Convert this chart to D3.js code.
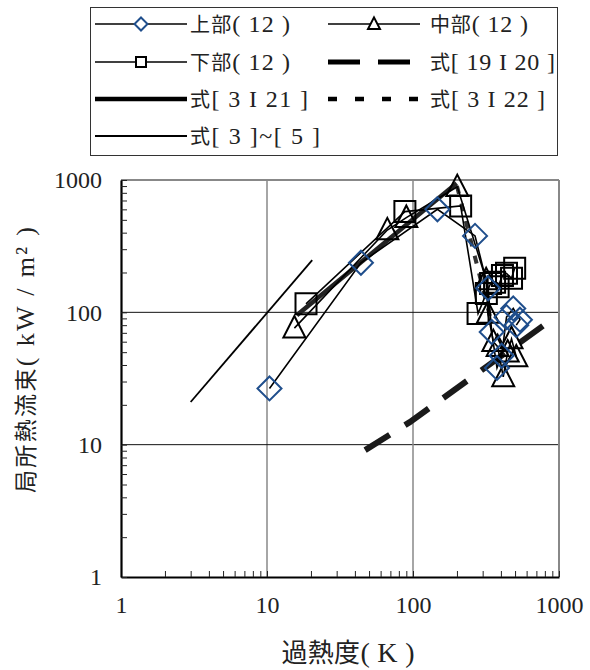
<!DOCTYPE html>
<html><head><meta charset="utf-8">
<script src="https://cdn.jsdelivr.net/npm/d3@7"></script>
<style>body{margin:0;background:#fff}svg{display:block}</style>
</head><body>
<svg id="c" width="590" height="670"></svg>
<script>
// ---- data ----
const upperX = [10.4, 44, 147, 266, 327, 346, 376, 405, 437, 486, 540, 510];
const upperY = [26.6, 237, 601, 378, 152, 71, 38, 47, 92, 107, 88, 80];
const midX = [15.4, 66.7, 90, 201, 317, 326, 355, 380, 415, 445, 473, 510];
const midY = [76, 419, 520, 890, 176, 98, 60, 55, 32.5, 50, 63, 46];
const lowX = [18.5, 88, 212, 279, 318, 340, 362, 383, 410, 437, 473, 497];
const lowY = [116, 577, 637, 98, 139, 165, 169, 156, 190, 197, 181, 215];
const eq35X = [3, 20.4], eq35Y = [21, 248];
const eq321X = [16, 199], eq321Y = [95, 946];
const eq322X = [200, 337], eq322Y = [900, 93];
const eq1920X = [47, 95, 193, 824], eq1920Y = [9.1, 14.8, 26, 83];
const tickLabels = [1, 10, 100, 1000];
const legendLabels = ["上部( 12 )", "中部( 12 )", "下部( 12 )", "式[ 19 I 20 ]", "式[ 3 I 21 ]", "式[ 3 I 22 ]", "式[ 3 ]~[ 5 ]"];
const xTitle = "過熱度( K )";
const yTitle = "局所熱流束( kW / m² )";

const svg = d3.select("#c");
const L = 121, R = 559, T = 180, B = 577;
const x = d3.scaleLog().domain([1, 1000]).range([L, R]);
const y = d3.scaleLog().domain([1, 1000]).range([B, T]);
const BLUE = "#1f4e8c";

// rich text helper: CJK runs in sans CJK, others in serif
function rich(sel, str, cjkSize, serifSize) {
  const runs = [];
  for (const ch of str) {
    const cjk = /[\u3000-\u9fff\uff00-\uffef]/.test(ch);
    if (runs.length && runs[runs.length - 1].cjk === cjk) runs[runs.length - 1].t += ch;
    else runs.push({ cjk, t: ch });
  }
  runs.forEach(r => sel.append("tspan")
    .attr("font-family", r.cjk ? "'Noto Sans CJK JP'" : "'Liberation Serif'")
    .attr("font-size", r.cjk ? cjkSize : serifSize)
    .style("white-space", "pre")
    .text(r.t));
}

// grid
const g = svg.append("g");
[10, 100].forEach(v => {
  g.append("line").attr("x1", x(v)).attr("x2", x(v)).attr("y1", T).attr("y2", B)
    .attr("stroke", "#888").attr("stroke-width", 1.5);
  g.append("line").attr("x1", L).attr("x2", R).attr("y1", y(v)).attr("y2", y(v))
    .attr("stroke", "#111").attr("stroke-width", 1);
});
// top/right borders
g.append("line").attr("x1", L).attr("x2", R).attr("y1", T).attr("y2", T).attr("stroke", "#888").attr("stroke-width", 2);
g.append("line").attr("x1", R).attr("x2", R).attr("y1", T).attr("y2", B).attr("stroke", "#888").attr("stroke-width", 2);

// axes with inward minor ticks
const allTicks = [];
[1, 10, 100].forEach(d => { for (let k = 1; k <= 9; k++) allTicks.push(d * k); });
allTicks.push(1000);
const fmt = v => tickLabels.includes(v) ? String(v) : "";
const ax = svg.append("g").attr("transform", `translate(0,${B})`)
  .call(d3.axisBottom(x).tickValues(allTicks).tickFormat(fmt).tickSizeInner(-6).tickSizeOuter(0).tickPadding(19));
const ay = svg.append("g").attr("transform", `translate(${L},0)`)
  .call(d3.axisLeft(y).tickValues(allTicks).tickFormat(fmt).tickSizeInner(-6).tickSizeOuter(0).tickPadding(19));
[ax, ay].forEach(a => {
  a.select(".domain").attr("stroke", "#000").attr("stroke-width", 2.2);
  a.selectAll(".tick line").attr("stroke", "#222").attr("stroke-width", 1);
  a.selectAll(".tick text").attr("font-family", "'Liberation Serif'").attr("font-size", 24).attr("fill", "#222");
});

// lines
const lineGen = d3.line().x(d => x(d[0])).y(d => y(d[1]));
const zip = (a, b) => a.map((v, i) => [v, b[i]]);
const pg = svg.append("g").attr("fill", "none");
pg.append("path").attr("d", lineGen(zip(eq1920X, eq1920Y))).attr("stroke", "#1a1a1a").attr("stroke-width", 6).attr("stroke-dasharray", "29,18");
pg.append("path").attr("d", lineGen(zip(eq35X, eq35Y))).attr("stroke", "#000").attr("stroke-width", 1.8);
pg.append("path").attr("d", lineGen(zip(eq321X, eq321Y))).attr("stroke", "#222").attr("stroke-width", 4.5);
pg.append("path").attr("d", lineGen(zip(eq322X, eq322Y))).attr("stroke", "#333").attr("stroke-width", 4).attr("stroke-dasharray", "8,10");
[[upperX, upperY], [midX, midY], [lowX, lowY]].forEach(([xs, ys]) =>
  pg.append("path").attr("d", lineGen(zip(xs, ys))).attr("stroke", "#000").attr("stroke-width", 1.6));

// markers
function diamond(s) { return `M0,${-s}L${s},0L0,${s}L${-s},0Z`; }
function square(s) { return `M${-s},${-s}H${s}V${s}H${-s}Z`; }
function tri(s) { return `M0,${-s * 1.1}L${s},${s * 0.85}L${-s},${s * 0.85}Z`; }
const mg = svg.append("g").attr("fill", "none");
zip(lowX, lowY).forEach(p => mg.append("path").attr("d", square(10.5)).attr("transform", `translate(${x(p[0])},${y(p[1])})`).attr("stroke", "#000").attr("stroke-width", 2));
zip(midX, midY).forEach(p => mg.append("path").attr("d", tri(11)).attr("transform", `translate(${x(p[0])},${y(p[1])})`).attr("stroke", "#000").attr("stroke-width", 2));
zip(upperX, upperY).forEach(p => mg.append("path").attr("d", diamond(12)).attr("transform", `translate(${x(p[0])},${y(p[1])})`).attr("stroke", BLUE).attr("stroke-width", 2));

// legend
const lg = svg.append("g");
lg.append("rect").attr("x", 90.5).attr("y", 7.5).attr("width", 467).attr("height", 148)
  .attr("fill", "#fff").attr("stroke", "#333").attr("stroke-width", 1);
const rows = [24, 62, 99, 136];
const cols = [{ x1: 95, x2: 187, tx: 190 }, { x1: 328, x2: 420, tx: 430 }];
const items = [
  { r: 0, c: 0, m: "d", w: 100 }, { r: 0, c: 1, m: "t", w: 98 },
  { r: 1, c: 0, m: "s", w: 100 }, { r: 1, c: 1, dash: "32,18", sw: 5, w: 125 },
  { r: 2, c: 0, sw: 4.5, w: 118 }, { r: 2, c: 1, dash: "9,18", sw: 4.5, w: 115 },
  { r: 3, c: 0, sw: 1.8, w: 130 }
];
items.forEach((it, i) => {
  const c = cols[it.c], yy = rows[it.r];
  const ln = lg.append("line").attr("x1", c.x1).attr("x2", c.x2).attr("y1", yy).attr("y2", yy)
    .attr("stroke", "#000").attr("stroke-width", it.sw || 1.5);
  if (it.dash) ln.attr("stroke-dasharray", it.dash);
  const cx = (c.x1 + c.x2) / 2;
  if (it.m === "d") lg.append("path").attr("d", diamond(6.5)).attr("transform", `translate(${cx},${yy})`).attr("fill", "#fff").attr("stroke", BLUE).attr("stroke-width", 2);
  if (it.m === "s") lg.append("path").attr("d", square(5)).attr("transform", `translate(${cx},${yy})`).attr("fill", "#fff").attr("stroke", "#000").attr("stroke-width", 2);
  if (it.m === "t") lg.append("path").attr("d", tri(6)).attr("transform", `translate(${cx},${yy})`).attr("fill", "#fff").attr("stroke", "#000").attr("stroke-width", 2);
  const t = lg.append("text").attr("x", c.tx).attr("y", yy + 8).attr("fill", "#222")
    .attr("textLength", it.w).attr("lengthAdjust", "spacing");
  rich(t, legendLabels[i], 20, 24);
});

// titles
const xt = svg.append("text").attr("x", 348).attr("y", 662).attr("text-anchor", "middle").attr("fill", "#222")
  .attr("textLength", 133).attr("lengthAdjust", "spacing");
rich(xt, xTitle, 26, 28);
const yt = svg.append("text").attr("transform", "translate(34,360) rotate(-90)").attr("text-anchor", "middle").attr("fill", "#222")
  .attr("textLength", 266).attr("lengthAdjust", "spacing");
rich(yt, yTitle, 23, 26);
</script>
</body></html>
